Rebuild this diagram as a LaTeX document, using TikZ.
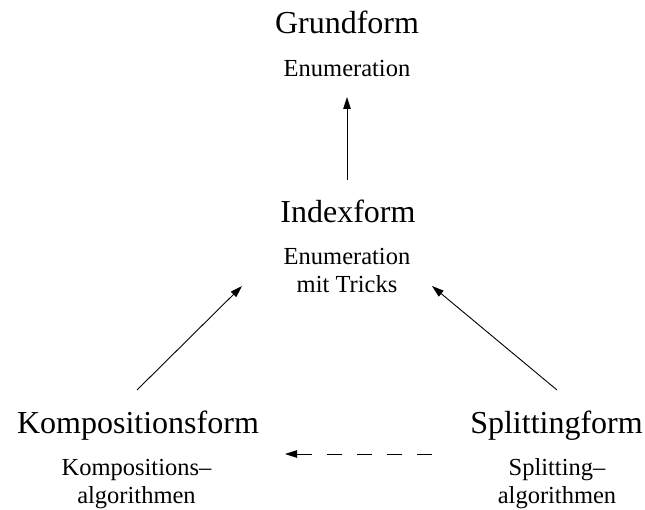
\documentclass[tikz,border=0pt]{standalone}
\usepackage{fontspec}
\setmainfont{Liberation Serif}
\usetikzlibrary{arrows.meta}
\tikzset{
  big/.style={font=\fontsize{32}{36}\selectfont, inner sep=0pt, anchor=base},
  small/.style={font=\fontsize{24.5}{28}\selectfont, inner sep=0pt, anchor=base, align=center},
  conn/.style={line width=0.9pt, -{Triangle[length=12pt,width=7.5pt]}},
  dashconn/.style={conn, dash pattern=on 15pt off 15pt}
}
\begin{document}
\begin{tikzpicture}[x=1pt,y=-1pt]
\useasboundingbox (0,0) rectangle (645,510);
\node[big] (grund) at (347,34) {Grundform};
\node[small] (enumA) at (347,77) {Enumeration};
\node[big] (idx) at (348,223) {Indexform};
\node[small] (idxd) at (347,293) {Enumeration\\mit Tricks};
\node[big] (komp) at (138,433) {Kompositionsform};
\node[small] (kompd) at (136.5,503) {Kompositions–\\algorithmen};
\node[big] (split) at (556.5,433) {Splittingform};
\node[small] (splitd) at (557,503) {Splitting–\\algorithmen};
\coordinate (upA) at (347,180);
\coordinate (upB) at (347,97);
\coordinate (lA) at (137,390);
\coordinate (lB) at (242,286);
\coordinate (rA) at (557,390);
\coordinate (rB) at (432,286);
\coordinate (dA) at (432,454);
\coordinate (dB) at (285,454);
\draw[conn] (upA) -- (upB);
\draw[conn] (lA) -- (lB);
\draw[conn] (rA) -- (rB);
\draw[dashconn] (dA) -- (dB);
\end{tikzpicture}
\end{document}
